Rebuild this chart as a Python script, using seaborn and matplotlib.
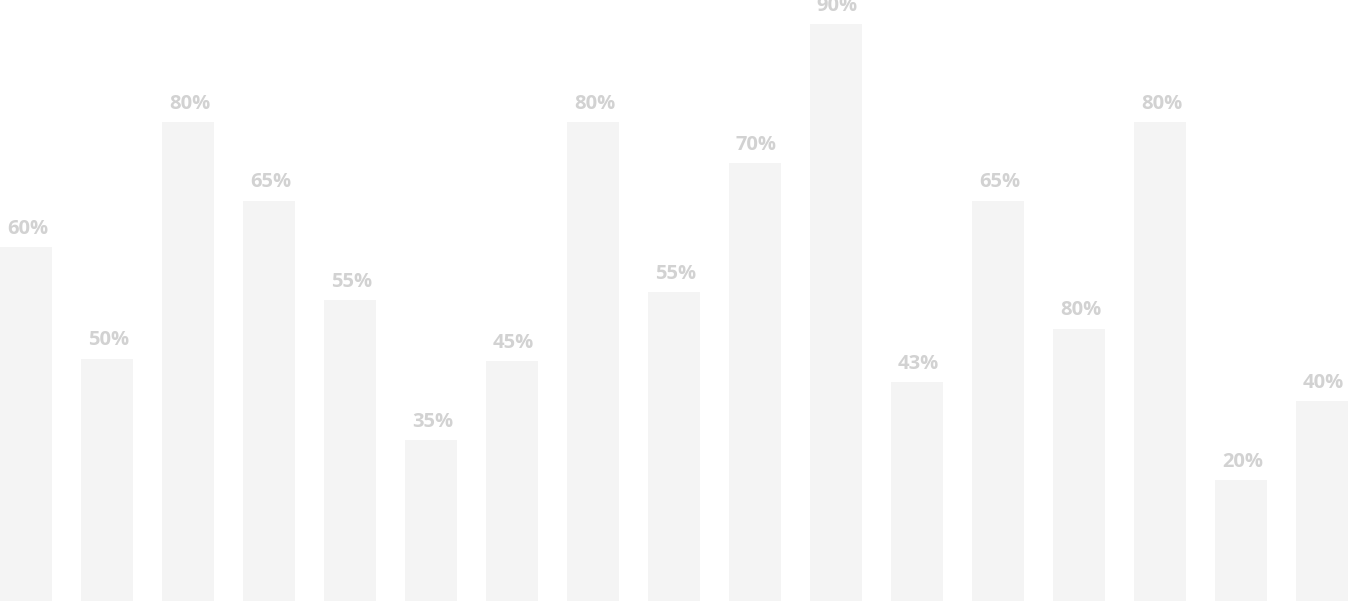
"""Light grey percentage bars with labels above each bar."""

import matplotlib
matplotlib.use("Agg")
import matplotlib.pyplot as plt
import pandas as pd
import seaborn as sns

# bar heights as a share of the plot height
heights = [58.9, 40.3, 79.7, 66.6, 50.1, 26.8, 39.9, 79.7, 51.4,
           72.9, 96.0, 36.4, 66.6, 45.3, 79.7, 20.1, 33.3]
labels = ["60%", "50%", "80%", "65%", "55%", "35%", "45%", "80%", "55%",
          "70%", "90%", "43%", "65%", "80%", "80%", "20%", "40%"]
categories = [f"bar{i + 1}" for i in range(len(heights))]

BAR_COLOR = "#f4f4f4"
TEXT_COLOR = "#d2d2d2"


def main() -> None:
    sns.set_style("white")
    plt.rcParams["font.family"] = ["Open Sans", "DejaVu Sans"]

    df = pd.DataFrame({"cat": categories, "value": heights, "label": labels})

    fig = plt.figure(figsize=(13.48, 6.01), dpi=100)
    ax = fig.add_axes([0, 0, 1, 1])
    sns.barplot(data=df, x="cat", y="value", color=BAR_COLOR, width=52 / 81,
                saturation=1, linewidth=0, ax=ax)

    for i, row in df.iterrows():
        ax.annotate(row["label"], (i, row["value"]), xytext=(1, 6),
                    textcoords="offset points", ha="center", va="bottom",
                    fontsize=14.5, fontweight="bold", color=TEXT_COLOR,
                    annotation_clip=False)

    ax.set_xlim(-26 / 81, len(heights) - 1 + 26 / 81)
    ax.set_ylim(0, 100)
    ax.set_axis_off()
    fig.savefig("out.png", dpi=100)
    plt.close(fig)


if __name__ == "__main__":
    main()
